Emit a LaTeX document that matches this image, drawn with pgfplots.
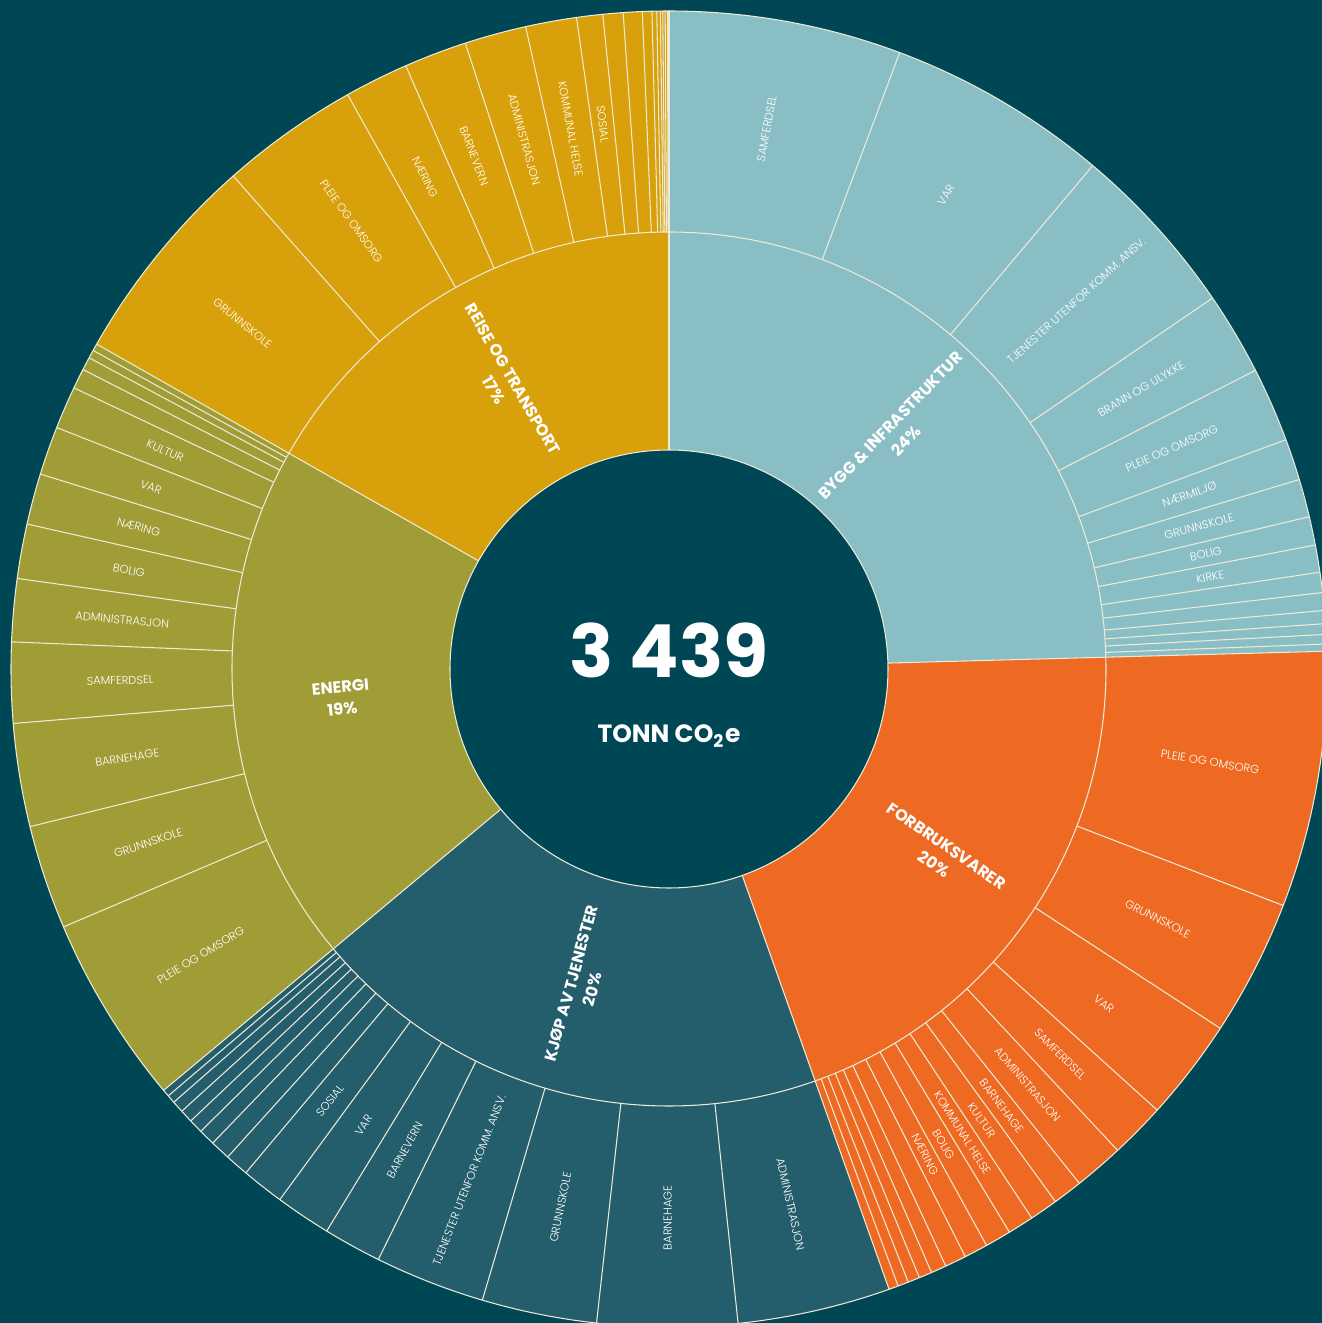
\documentclass[border=0pt]{standalone}
\usepackage{pgfplots}
\pgfplotsset{compat=1.18}
\usepackage{pgfplotstable}
\usepackage{fontspec}
\setmainfont{Poppins}
\IfFontExistsTF{Poppins Light}{\newfontfamily\lightfont{Poppins Light}}{\let\lightfont\relax}

\definecolor{bg}{RGB}{0,71,86}
\definecolor{cat0}{RGB}{138,190,197}
\definecolor{cat1}{RGB}{238,106,35}
\definecolor{cat2}{RGB}{36,94,108}
\definecolor{cat3}{RGB}{160,157,55}
\definecolor{cat4}{RGB}{216,160,10}
\definecolor{sep}{RGB}{238,234,216}

% outer ring: tonnes CO2e per sector within each category (clockwise from 12 o'clock)
\pgfplotstableread[col sep=comma]{
cat,value,label
0,196,SAMFERDSEL
0,187,VAR
0,149,TJENESTER UTENFOR KOMM. ANSV.
0,70,BRANN OG ULYKKE
0,63,PLEIE OG OMSORG
0,35,NÆRMILJØ
0,32,GRUNNSKOLE
0,24,BOLIG
0,23,KIRKE
0,17,none
0,15,none
0,11,none
0,9,none
0,8,none
0,6,none
1,216,PLEIE OG OMSORG
1,115,GRUNNSKOLE
1,86,VAR
1,47,SAMFERDSEL
1,42,ADMINISTRASJON
1,25,BARNEHAGE
1,24,KULTUR
1,22,KOMMUNAL HELSE
1,22,BOLIG
1,20,NÆRING
1,18,none
1,13,none
1,11,none
1,10,none
1,9,none
1,8,none
2,129,ADMINISTRASJON
2,118,BARNEHAGE
2,97,GRUNNSKOLE
2,93,TJENESTER UTENFOR KOMM. ANSV.
2,49,BARNEVERN
2,47,VAR
2,36,SOSIAL
2,20,none
2,17,none
2,14,none
2,12,none
2,11,none
2,10,none
2,7,none
2,6,none
3,160,PLEIE OG OMSORG
3,88,GRUNNSKOLE
3,87,BARNEHAGE
3,68,SAMFERDSEL
3,53,ADMINISTRASJON
3,46,BOLIG
3,43,NÆRING
3,41,VAR
3,36,KULTUR
3,17,none
3,11,none
3,7,none
3,6,none
4,181,GRUNNSKOLE
4,117,PLEIE OG OMSORG
4,54,NÆRING
4,53,BARNEVERN
4,52,ADMINISTRASJON
4,43,KOMMUNAL HELSE
4,22,SOSIAL
4,17,none
4,16,none
4,8,none
4,4,none
4,3,none
4,2,none
4,2,none
4,2,none
4,1,none
}\outerdata

% inner ring: categories
\pgfplotstableread[col sep=comma]{
cat,value,pct,label
0,845,24,BYGG \& INFRASTRUKTUR
1,688,20,FORBRUKSVARER
2,666,20,KJØP AV TJENESTER
3,663,19,ENERGI
4,577,17,REISE OG TRANSPORT
}\innerdata

% total 3439 tonnes -> 360/3439 degrees per tonne
\def\degper{0.1046816}
\def\nolab{none}
\newcommand\smallfont{\lightfont\fontsize{3.25pt}{3.8pt}\selectfont}
\newcommand\catfont{\fontsize{4.6pt}{6.3pt}\selectfont\bfseries}

\begin{document}
\begin{tikzpicture}
\begin{axis}[x=0.01cm,y=0.01cm,xmin=-669,xmax=653,ymin=-654,ymax=669,
  hide axis,clip=true]
\addplot[fill=bg,draw=none] coordinates {(-669,-654) (653,-654) (653,669) (-669,669) (-669,-654)};
\pgfplotsextra{%
\begin{scope}[shift={(axis cs:0,0)},x=0.01cm,y=0.01cm]
\clip (-669,-654) rectangle (653,669);
\pgfplotstablegetrowsof{\outerdata}\pgfmathtruncatemacro\outerlast{\pgfplotsretval-1}
\pgfplotstablegetrowsof{\innerdata}\pgfmathtruncatemacro\innerlast{\pgfplotsretval-1}
% ---- outer fills and labels
\xdef\curang{90}
\foreach \i in {0,...,\outerlast}{%
  \pgfplotstablegetelem{\i}{cat}\of\outerdata \edef\mycat{\pgfplotsretval}%
  \pgfplotstablegetelem{\i}{value}\of\outerdata \edef\myval{\pgfplotsretval}%
  \pgfplotstablegetelem{\i}{label}\of\outerdata \edef\mylab{\pgfplotsretval}%
  \pgfmathsetmacro\ea{\curang-\myval*\degper}%
  \pgfmathsetmacro\ma{(\curang+\ea)/2}%
  \pgfmathsetmacro\rot{cos(\ma)>=0 ? \ma : \ma+180}%
  \fill[cat\mycat] (\curang:437) arc[start angle=\curang,end angle=\ea,radius=437]
     -- (\ea:658) arc[start angle=\ea,end angle=\curang,radius=658] -- cycle;
  \ifx\mylab\nolab\else
    \node[rotate=\rot,text=white,font=\smallfont,inner sep=0pt] at (\ma:549) {\mylab};
  \fi
  \xdef\curang{\ea}%
}
% ---- outer separators
\xdef\curang{90}
\foreach \i in {0,...,\outerlast}{%
  \pgfplotstablegetelem{\i}{value}\of\outerdata \edef\myval{\pgfplotsretval}%
  \pgfmathsetmacro\ea{\curang-\myval*\degper}%
  \draw[sep,line width=0.3pt] (\curang:437) -- (\curang:658);
  \xdef\curang{\ea}%
}
% ---- inner fills and labels
\xdef\curang{90}
\foreach \i in {0,...,\innerlast}{%
  \pgfplotstablegetelem{\i}{cat}\of\innerdata \edef\mycat{\pgfplotsretval}%
  \pgfplotstablegetelem{\i}{value}\of\innerdata \edef\myval{\pgfplotsretval}%
  \pgfplotstablegetelem{\i}{pct}\of\innerdata \edef\mypct{\pgfplotsretval}%
  \pgfplotstablegetelem{\i}{label}\of\innerdata \edef\mylab{\pgfplotsretval}%
  \pgfmathsetmacro\ea{\curang-\myval*\degper}%
  \pgfmathsetmacro\ma{(\curang+\ea)/2}%
  \pgfmathsetmacro\rot{cos(\ma)>=0 ? \ma : \ma+180}%
  \fill[cat\mycat] (\curang:219) arc[start angle=\curang,end angle=\ea,radius=219]
     -- (\ea:437) arc[start angle=\ea,end angle=\curang,radius=437] -- cycle;
  \node[rotate=\rot,text=white,font=\catfont,inner sep=0pt,align=center] at (\ma:329) {\mylab\\\mypct\%};
  \xdef\curang{\ea}%
}
\xdef\curang{90}
\foreach \i in {0,...,\innerlast}{%
  \pgfplotstablegetelem{\i}{value}\of\innerdata \edef\myval{\pgfplotsretval}%
  \pgfmathsetmacro\ea{\curang-\myval*\degper}%
  \draw[sep,line width=0.3pt] (\curang:219) -- (\curang:437);
  \xdef\curang{\ea}%
}
\draw[sep,line width=0.3pt] (0,0) circle[radius=658];
\draw[sep,line width=0.3pt] (0,0) circle[radius=437];
\fill[bg] (0,0) circle[radius=219];
\draw[sep,line width=0.3pt] (0,0) circle[radius=219];
\node[text=white,font=\fontsize{20.8pt}{24pt}\selectfont\bfseries,inner sep=0pt] at (0,19) {3 439};
\node[text=white,font=\fontsize{7.1pt}{8pt}\selectfont\bfseries,inner sep=0pt] at (0,-67) {TONN CO\textsubscript{2}e};
\end{scope}
}
\end{axis}
\end{tikzpicture}
\end{document}
